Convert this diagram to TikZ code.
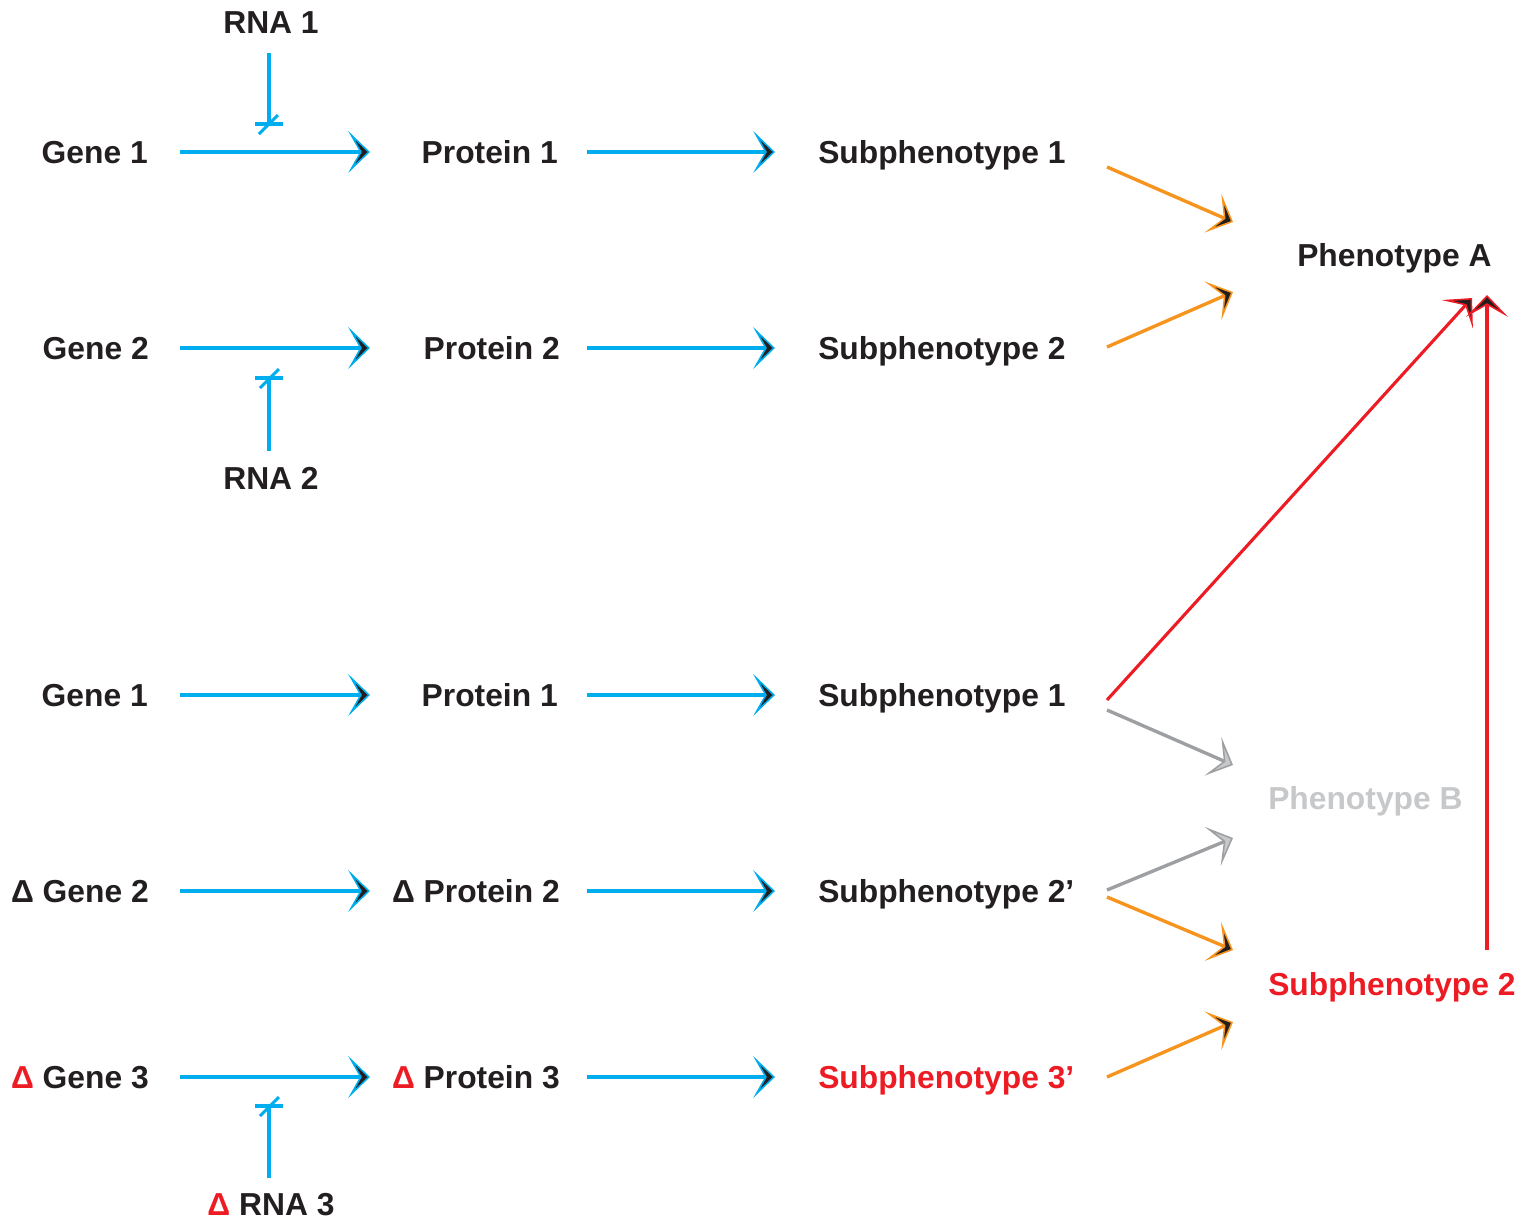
\documentclass[tikz,border=0pt]{standalone}
\usepackage{fontspec}
\setmainfont{Liberation Sans}
\usetikzlibrary{arrows.meta}
\definecolor{cblue}{HTML}{00AEEF}
\definecolor{corange}{HTML}{F7941D}
\definecolor{cred}{HTML}{ED1C24}
\definecolor{cgray}{HTML}{9D9FA2}
\definecolor{clgray}{HTML}{C7C8CA}
\definecolor{ctext}{HTML}{231F20}
\begin{document}
\begin{tikzpicture}[x=0.025cm,y=-0.025cm,
  lbl/.style={inner sep=0pt, font=\fontsize{22.6}{27}\selectfont\bfseries, text=ctext},
  arrtip/.style={-{Stealth[length=15.6pt,width=30pt,inset=8.5pt,fill=#1,line width=1.1pt]}},
  flow/.style={line width=2.2pt, draw=cblue, arrtip=ctext},
  oflow/.style={line width=2.4pt, draw=corange, arrtip=ctext},
  rflow/.style={line width=2.2pt, draw=cred, arrtip=ctext},
  gflow/.style={line width=2.4pt, draw=cgray, arrtip=clgray},
  inh/.style={line width=2.2pt, draw=cblue},
]
\useasboundingbox (0,0) rectangle (1532,1224);

% ---------- top block ----------
\node[lbl, anchor=base] (rna1) at (271,33) {RNA 1};
\node[lbl, anchor=base east] (g1) at (148,163) {Gene 1};
\node[lbl, anchor=base east] (p1) at (558,163) {Protein 1};
\node[lbl, anchor=base west] (s1) at (818,163) {Subphenotype 1};
\node[lbl, anchor=base east] (g2) at (149,359) {Gene 2};
\node[lbl, anchor=base east] (p2) at (560,359) {Protein 2};
\node[lbl, anchor=base west] (s2) at (818,359) {Subphenotype 2};
\node[lbl, anchor=base] (rna2) at (271,489) {RNA 2};
\node[lbl, anchor=base west] (pa) at (1297,266) {Phenotype A};

\coordinate (g1o) at (180,152); \coordinate (p1i) at (370,152);
\coordinate (p1o) at (587,152); \coordinate (s1i) at (775,152);
\coordinate (g2o) at (180,348); \coordinate (p2i) at (370,348);
\coordinate (p2o) at (587,348); \coordinate (s2i) at (775,348);

\draw[flow] (g1o) -- (p1i);
\draw[flow] (p1o) -- (s1i);
\draw[flow] (g2o) -- (p2i);
\draw[flow] (p2o) -- (s2i);

\coordinate (r1o) at (269,53); \coordinate (r1e) at (269,124);
\draw[inh] (r1o) -- (r1e);
\draw[inh] (r1e) ++(-14,0) -- ++(28,0);
\draw[inh] (r1e) ++(-10,10) -- ++(19,-19);

\coordinate (r2o) at (269,451); \coordinate (r2e) at (269,378);
\draw[inh] (r2o) -- (r2e);
\draw[inh] (r2e) ++(-14,0) -- ++(28,0);
\draw[inh] (r2e) ++(-9,10) -- ++(19,-19);

\coordinate (s1o) at (1107,167); \coordinate (pa1) at (1233,222);
\coordinate (s2o) at (1107,347); \coordinate (pa2) at (1233,292);
\draw[oflow] (s1o) -- (pa1);
\draw[oflow] (s2o) -- (pa2);

% ---------- bottom block ----------
\node[lbl, anchor=base east] (g3) at (148,706) {Gene 1};
\node[lbl, anchor=base east] (p3) at (558,706) {Protein 1};
\node[lbl, anchor=base west] (s3) at (818,706) {Subphenotype 1};
\node[lbl, anchor=base east] (g4) at (149,902) {Δ Gene 2};
\node[lbl, anchor=base east] (p4) at (560,902) {Δ Protein 2};
\node[lbl, anchor=base west] (s4) at (818,902) {Subphenotype 2’};
\node[lbl, anchor=base east] (g5) at (149,1088) {{\color{cred}Δ} Gene 3};
\node[lbl, anchor=base east] (p5) at (560,1088) {{\color{cred}Δ} Protein 3};
\node[lbl, anchor=base west, text=cred] (s5) at (818,1088) {Subphenotype 3’};
\node[lbl, anchor=base] (rna3) at (271,1215) {{\color{cred}Δ} RNA 3};
\node[lbl, anchor=base west, text=clgray] (pb) at (1268,809) {Phenotype B};
\node[lbl, anchor=base west, text=cred] (sp2) at (1268,995) {Subphenotype 2};

\coordinate (g3o) at (180,695); \coordinate (p3i) at (370,695);
\coordinate (p3o) at (587,695); \coordinate (s3i) at (775,695);
\coordinate (g4o) at (180,891); \coordinate (p4i) at (370,891);
\coordinate (p4o) at (587,891); \coordinate (s4i) at (775,891);
\coordinate (g5o) at (180,1077); \coordinate (p5i) at (370,1077);
\coordinate (p5o) at (587,1077); \coordinate (s5i) at (775,1077);
\draw[flow] (g3o) -- (p3i);
\draw[flow] (p3o) -- (s3i);
\draw[flow] (g4o) -- (p4i);
\draw[flow] (p4o) -- (s4i);
\draw[flow] (g5o) -- (p5i);
\draw[flow] (p5o) -- (s5i);

\coordinate (r3o) at (269,1178); \coordinate (r3e) at (269,1106);
\draw[inh] (r3o) -- (r3e);
\draw[inh] (r3e) ++(-14,0) -- ++(28,0);
\draw[inh] (r3e) ++(-9,10) -- ++(19,-19);

\coordinate (s3r) at (1107,700); \coordinate (pa3) at (1472,298);
\coordinate (sp2t) at (1487,950); \coordinate (pa4) at (1487,295);
\draw[rflow] (s3r) -- (pa3);
\draw[rflow] (sp2t) -- (pa4);

\coordinate (s3g) at (1107,710); \coordinate (pb1) at (1233,765);
\coordinate (s4g) at (1107,890); \coordinate (pb2) at (1233,838);
\draw[gflow] (s3g) -- (pb1);
\draw[gflow] (s4g) -- (pb2);

\coordinate (s4o) at (1107,897); \coordinate (sp2a) at (1233,950);
\coordinate (s5o) at (1107,1077); \coordinate (sp2b) at (1233,1022);
\draw[oflow] (s4o) -- (sp2a);
\draw[oflow] (s5o) -- (sp2b);
\end{tikzpicture}
\end{document}
